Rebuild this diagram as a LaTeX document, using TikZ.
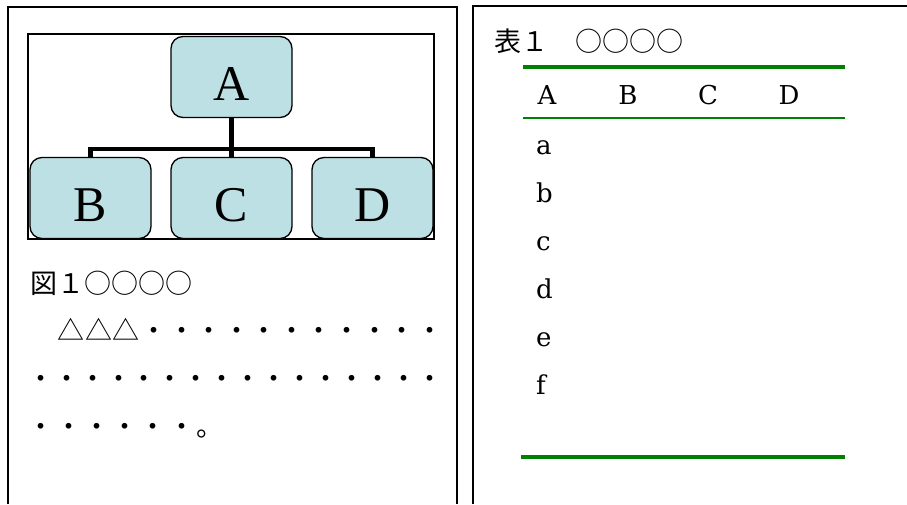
\documentclass[tikz,border=0pt]{standalone}
\usepackage{fontspec}
\setmainfont{Liberation Serif}
\newfontfamily\cjk{Noto Sans CJK JP}
\newfontfamily\tabfont{DejaVu Serif}
\definecolor{boxfill}{RGB}{188,224,228}
\definecolor{rulegreen}{RGB}{0,128,0}
\newcommand\gp{\hss}
\tikzset{
  panel/.style={line width=2pt},
  frame/.style={line width=1.5pt},
  orgbox/.style={draw, line width=1.3pt, fill=boxfill, rounded corners=12pt,
    minimum width=121pt, minimum height=81pt, inner sep=0pt,
    text height=47pt, text depth=0pt, font=\fontsize{50pt}{50pt}\selectfont},
  link/.style={line width=4.5pt},
  cjktext/.style={inner sep=0pt, anchor=base west, font=\cjk\fontsize{27pt}{27pt}\selectfont},
  tabtext/.style={inner sep=0pt, font=\tabfont\fontsize{26pt}{26pt}\selectfont},
  rulethick/.style={draw=rulegreen, line width=4pt},
  rulethin/.style={draw=rulegreen, line width=2pt},
}
\begin{document}
\begin{tikzpicture}[x=1pt,y=-1pt]
\useasboundingbox[fill=white] (0,0) rectangle (907,504);
% panels
\draw[panel] (7.5,504) -- (7.5,7) -- (457,7) -- (457,504);
\draw[panel] (473,504) -- (473,6) -- (907,6);
% inner frame
\draw[frame] (28,34) rectangle (434,239);
% org chart
\coordinate (j) at (231.5,149);
\draw[link] (231.5,117) -- (231.5,157);
\node[orgbox] (A) at (231.5,77) {A};
\node[orgbox] (B) at (90.5,198) {B};
\node[orgbox] (C) at (231.5,198) {C};
\node[orgbox] (D) at (372.5,198) {D};
\draw[link] (A.south) -- (C.north);
\draw[link] (B.north) |- (j) -| (D.north);
% left caption and body
\node[cjktext] (cap1) at (30,293) {図１○○○○};
\node[cjktext] (p1) at (30,340) {\hbox to 413pt{　\gp△\gp△\gp△\gp・\gp・\gp・\gp・\gp・\gp・\gp・\gp・\gp・\gp・\gp・}};
\node[cjktext] (p2) at (27,388) {\hbox to 416pt{・\gp・\gp・\gp・\gp・\gp・\gp・\gp・\gp・\gp・\gp・\gp・\gp・\gp・\gp・\gp・}};
\node[cjktext] (p3) at (27,436) {\hbox to 196pt{・\gp・\gp・\gp・\gp・\gp・\gp。}};
% right caption and table
\node[cjktext] (cap2) at (494,51) {表１　○○○○};
\draw[rulethick] (523,67) -- (845,67);
\draw[rulethin] (523,118) -- (845,118);
\draw[rulethick] (521,457) -- (845,457);
\node[tabtext, anchor=base] (hA) at (547,104) {A};
\node[tabtext, anchor=base] (hB) at (628,104) {B};
\node[tabtext, anchor=base] (hC) at (708,104) {C};
\node[tabtext, anchor=base] (hD) at (789,104) {D};
\node[tabtext, anchor=base west] (ra) at (536,154) {a};
\node[tabtext, anchor=base west] (rb) at (536,202) {b};
\node[tabtext, anchor=base west] (rc) at (536,250) {c};
\node[tabtext, anchor=base west] (rd) at (536,298) {d};
\node[tabtext, anchor=base west] (re) at (536,346) {e};
\node[tabtext, anchor=base west] (rf) at (536,394) {f};
\end{tikzpicture}
\end{document}
